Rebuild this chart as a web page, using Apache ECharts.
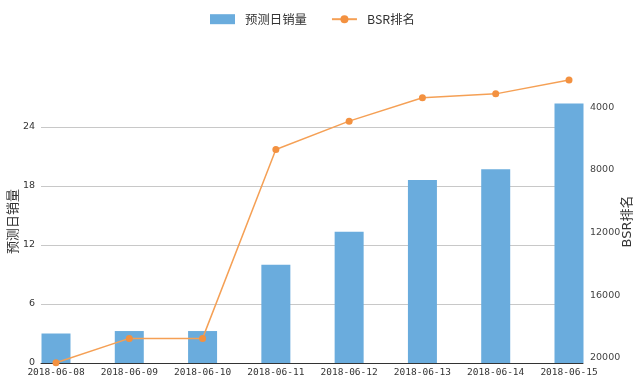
<!DOCTYPE html>
<html>
<head>
<meta charset="utf-8">
<script src="https://cdn.jsdelivr.net/npm/echarts@6/dist/echarts.min.js"></script>
<style>html,body{margin:0;padding:0;background:#fff}#c{width:640px;height:385px}</style>
</head>
<body>
<div id="c"></div>
<script>
var categories = ['2018-06-08','2018-06-09','2018-06-10','2018-06-11','2018-06-12','2018-06-13','2018-06-14','2018-06-15'];
var salesValues = [3.0, 3.25, 3.25, 10.0, 13.35, 18.6, 19.7, 26.4];
var bsrValues = [20300, 18750, 18750, 6700, 4890, 3400, 3150, 2260];
var leftTicks = [0, 6, 12, 18, 24];
var rightTicks = [4000, 8000, 12000, 16000, 20000];
var seriesNames = ['预测日销量', 'BSR排名'];

var leftRange = [0, 30];
var rightRange = [1500, 20320];

var chart = echarts.init(document.getElementById('c'), null, {renderer: 'canvas'});
chart.setOption({
  animation: false,
  backgroundColor: '#fff',
  legend: {
    top: 8,
    left: 205,
    itemWidth: 25,
    itemHeight: 10,
    itemGap: 24,
    textStyle: {fontSize: 12.4, color: '#333', fontFamily: 'Noto Sans CJK SC, DejaVu Sans', padding: [0, 0, 0, 5]},
    data: [
      {name: seriesNames[0], icon: 'rect'},
      {name: seriesNames[1]}
    ]
  },
  grid: [
    {left: 56, right: 71, top: 68, bottom: 22, containLabel: false, outerBoundsMode: 'none'},
    {left: 41, right: 57, top: 68, bottom: 22, containLabel: false, outerBoundsMode: 'none'}
  ],
  xAxis: [
    {
      type: 'category',
      gridIndex: 0,
      data: categories,
      boundaryGap: false,
      axisLine: {show: false},
      axisTick: {show: false},
      splitLine: {show: false},
      axisLabel: {
        interval: 0,
        margin: 5,
        fontSize: 9.5,
        color: '#333',
        fontFamily: 'DejaVu Sans Mono'
      }
    },
    {
      type: 'value',
      gridIndex: 1,
      min: 0,
      max: 1,
      axisLine: {show: true, lineStyle: {color: '#333', width: 1}},
      axisTick: {show: false},
      axisLabel: {show: false},
      splitLine: {show: false}
    }
  ],
  yAxis: [
    {
      type: 'value', gridIndex: 0, min: leftRange[0], max: leftRange[1],
      show: false, splitLine: {show: false}
    },
    {
      type: 'value', gridIndex: 0, inverse: true, min: rightRange[0], max: rightRange[1],
      show: false, splitLine: {show: false}
    },
    {
      type: 'value',
      gridIndex: 1,
      position: 'left',
      min: leftRange[0],
      max: leftRange[1],
      interval: 6,
      name: seriesNames[0],
      nameLocation: 'middle',
      nameGap: 22,
      nameMoveOverlap: false,
      nameTextStyle: {fontSize: 13, color: '#333', fontFamily: 'Noto Sans CJK SC', padding: [0, 12, 0, 0]},
      axisLine: {show: false},
      axisTick: {show: false},
      axisLabel: {
        customValues: leftTicks,
        margin: 6, fontSize: 9.5, color: '#333', fontFamily: 'DejaVu Sans'
      },
      splitLine: {show: true, showMaxLine: false, lineStyle: {color: '#c8c8c8', width: 1}}
    },
    {
      type: 'value',
      gridIndex: 1,
      position: 'right',
      inverse: true,
      min: rightRange[0],
      max: rightRange[1],
      name: seriesNames[1],
      nameLocation: 'middle',
      nameGap: 38,
      nameMoveOverlap: false,
      nameTextStyle: {fontSize: 13, color: '#333', fontFamily: 'DejaVu Sans, Noto Sans CJK SC', padding: [0, 12, 0, 0]},
      axisLine: {show: false},
      axisTick: {show: false},
      splitLine: {show: false},
      axisLabel: {
        customValues: rightTicks,
        margin: 7, fontSize: 9.5, color: '#444', fontFamily: 'DejaVu Sans',
        formatter: function (v) { return String(v); }
      }
    }
  ],
  series: [
    {
      name: seriesNames[0],
      type: 'bar',
      xAxisIndex: 0,
      yAxisIndex: 0,
      barWidth: 29,
      clip: false,
      itemStyle: {color: '#6aacdd'},
      data: salesValues
    },
    {
      name: seriesNames[1],
      type: 'line',
      xAxisIndex: 0,
      yAxisIndex: 1,
      symbol: 'circle',
      symbolSize: 7,
      clip: false,
      lineStyle: {color: '#f5a055', width: 1.5},
      itemStyle: {color: '#f39140'},
      data: bsrValues
    }
  ]
});
</script>
</body>
</html>
